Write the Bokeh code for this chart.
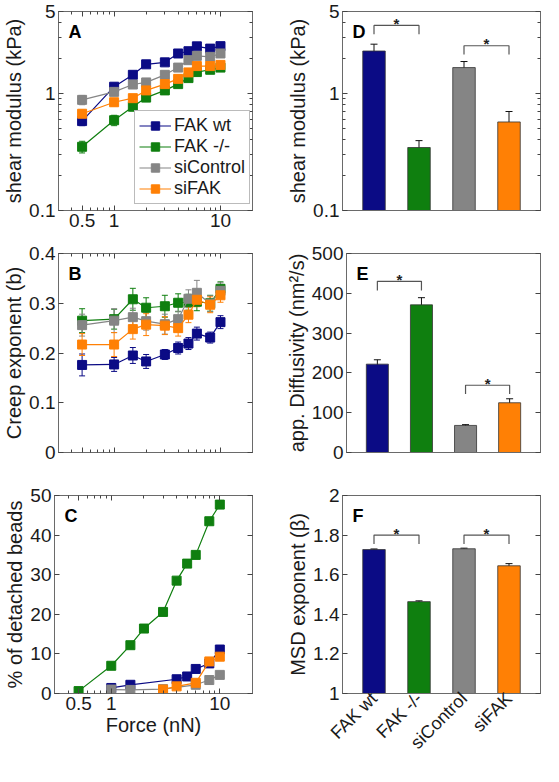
import math
from bokeh.plotting import figure
from bokeh.models import (ColumnDataSource, Whisker, TeeHead, FixedTicker, LogAxis, LinearAxis,
                          Label, Range1d, CustomJSTickFormatter)
from bokeh.layouts import column, row
from bokeh.embed import file_html
from bokeh.resources import INLINE

FONT = "Liberation Sans"
AX = "#6a6a6a"
TXT = "#1a1a1a"

# ---------------- data ----------------
groups = ["FAK wt", "FAK -/-", "siControl", "siFAK"]
colors = ["#0b0b85", "#0f7f0f", "#858585", "#ff8005"]

force = [0.5, 1, 1.5, 2, 3, 4, 5, 6, 8, 10]

# A: shear modulus (kPa) vs force
G_fak_wt = [0.58, 1.14, 1.44, 1.77, 1.84, 2.19, 2.29, 2.52, 2.41, 2.53]
G_fak_ko = [0.35, 0.59, 0.77, 0.92, 1.06, 1.20, 1.35, 1.52, 1.59, 1.66]
G_sicontrol = [0.88, 1.03, 1.19, 1.24, 1.44, 1.66, 1.92, 2.09, 2.05, 2.19]
G_sifak = [0.67, 0.84, 0.91, 1.06, 1.20, 1.33, 1.51, 1.71, 1.71, 1.75]
G_fak_wt_err = [0.05, 0.08, 0.09, 0.10, 0.10, 0.12, 0.12, 0.14, 0.13, 0.14]
G_fak_ko_err = [0.04, 0.06, 0.06, 0.06, 0.07, 0.07, 0.08, 0.09, 0.09, 0.10]
G_sicontrol_err = [0.08, 0.07, 0.08, 0.08, 0.09, 0.10, 0.11, 0.12, 0.12, 0.13]
G_sifak_err = [0.05, 0.06, 0.06, 0.07, 0.07, 0.08, 0.09, 0.10, 0.10, 0.10]

# B: creep exponent
b_fak_wt = [0.176, 0.177, 0.195, 0.183, 0.197, 0.210, 0.219, 0.239, 0.231, 0.262]
b_fak_ko = [0.265, 0.268, 0.308, 0.291, 0.294, 0.301, 0.302, 0.303, 0.300, 0.329]
b_sicontrol = [0.256, 0.265, 0.272, 0.264, 0.258, 0.268, 0.309, 0.321, 0.299, 0.325]
b_sifak = [0.217, 0.217, 0.248, 0.257, 0.255, 0.250, 0.277, 0.307, 0.297, 0.316]
b_fak_wt_err = [0.022, 0.014, 0.016, 0.014, 0.010, 0.012, 0.012, 0.013, 0.011, 0.013]
b_fak_ko_err = [0.024, 0.020, 0.022, 0.020, 0.022, 0.018, 0.016, 0.018, 0.016, 0.014]
b_sicontrol_err = [0.022, 0.024, 0.018, 0.018, 0.020, 0.016, 0.018, 0.025, 0.016, 0.016]
b_sifak_err = [0.022, 0.024, 0.020, 0.022, 0.018, 0.016, 0.016, 0.014, 0.016, 0.014]

# C: % of detached beads
c_force_fak_wt = [1, 1.5, 4, 5, 6, 8, 10]
c_fak_wt = [1.4, 2.2, 3.6, 4.3, 6.2, 7.6, 11.1]
c_force_fak_ko = [0.5, 1, 1.5, 2, 3, 4, 5, 6, 8, 10]
c_fak_ko = [0.6, 7.0, 12.2, 16.4, 20.6, 28.5, 32.8, 35.0, 43.5, 47.7]
c_force_sicontrol = [1, 1.5, 3, 6, 8, 10]
c_sicontrol = [1.0, 0.9, 1.1, 2.2, 3.4, 4.7]
c_force_sifak = [3, 4, 6, 8, 10]
c_sifak = [1.0, 1.8, 2.7, 8.1, 9.3]

# D, E, F: bar charts
D_modulus = [2.30, 0.345, 1.66, 0.57]
D_err = [0.33, 0.05, 0.21, 0.13]
E_diffusivity = [222, 371, 68, 125]
E_err = [11, 18, 2, 10]
F_beta = [1.727, 1.464, 1.731, 1.645]
F_err = [0.003, 0.004, 0.003, 0.011]

sig_pairs = [(1, 2), (3, 4)]
D_sig_top = [3.8, 2.55]
D_sig_end = [3.2, 2.15]
E_sig_top = [430, 169]
E_sig_end = [407, 147]
F_sig_top = [1.80, 1.80]
F_sig_end = [1.755, 1.755]

# ticks
log_x_ticks = [0.5, 1, 10]
log_x_minor = [0.3, 0.4, 0.6, 0.7, 0.8, 0.9, 2, 3, 4, 5, 6, 7, 8, 9, 20]
log_y_ticks = [0.1, 1, 5]
log_y_minor = [0.2, 0.3, 0.4, 0.5, 0.6, 0.7, 0.8, 0.9, 2, 3, 4]
B_ticks = [0, 0.1, 0.2, 0.3, 0.4]
C_ticks = [0, 10, 20, 30, 40, 50]
E_ticks = [0, 100, 200, 300, 400, 500]
F_ticks = [1, 1.2, 1.4, 1.6, 1.8, 2]

# ---------------- layout geometry ----------------
FW = 198          # frame width
FH = 199          # frame height
L_LEFT, L_RIGHT = 54, 30
R_LEFT, R_RIGHT = 60, 3
TOPS = [11, 17, 17]
BOTS = [26, 26, 68]


def num_fmt():
    return CustomJSTickFormatter(code="return Number(tick.toPrecision(6)).toString();")


def blank_fmt():
    return CustomJSTickFormatter(code="return '';")


def style(ax, size="19px"):
    ax.axis_line_color = AX
    ax.major_tick_line_color = "#444444"
    ax.minor_tick_line_color = "#444444"
    ax.major_tick_in = 5
    ax.major_tick_out = 0
    ax.minor_tick_in = 3
    ax.minor_tick_out = 0
    ax.major_label_text_font = FONT
    ax.major_label_text_font_size = size
    ax.major_label_text_color = TXT
    ax.major_label_standoff = 3
    ax.axis_label_text_font = FONT
    ax.axis_label_text_font_size = "20px"
    ax.axis_label_text_font_style = "normal"
    ax.axis_label_text_color = TXT
    ax.axis_label_standoff = 1


def make(col, rowi, xr, yr, xtype="linear", ytype="linear"):
    if col == 0:
        bl, br = L_LEFT, L_RIGHT
    else:
        bl, br = R_LEFT, R_RIGHT
    bt, bb = TOPS[rowi], BOTS[rowi]
    p = figure(width=bl + FW + br, height=bt + FH + bb, x_range=xr, y_range=yr,
               x_axis_type=xtype, y_axis_type=ytype, output_backend="svg",
               toolbar_location=None, min_border_left=bl, min_border_right=br,
               min_border_top=bt, min_border_bottom=bb)
    p.xgrid.visible = False
    p.ygrid.visible = False
    p.outline_line_color = AX
    style(p.xaxis[0])
    style(p.yaxis[0])
    return p


def add_box(p, xtype, ytype, xticker, yticker, xticks_on=True):
    top = LogAxis() if xtype == "log" else LinearAxis()
    right = LogAxis() if ytype == "log" else LinearAxis()
    top.ticker = xticker
    right.ticker = yticker
    for a in (top, right):
        style(a, "0px")
        a.formatter = blank_fmt()
        a.major_label_standoff = 0
    if not xticks_on:
        top.major_tick_in = 0
        top.minor_tick_in = 0
    p.add_layout(top, "above")
    p.add_layout(right, "right")


def panel_letter(p, letter):
    p.add_layout(Label(x=p.x_range.start, y=p.y_range.end, x_offset=10, y_offset=-10,
                       text=letter, text_font=FONT, text_font_style="bold",
                       text_font_size="18px", text_baseline="top", text_color="#000000"))


def series(p, xs, ys, errs, color, label=None):
    src = ColumnDataSource(dict(x=xs, y=ys,
                                upper=[v + e for v, e in zip(ys, errs)] if errs else ys,
                                lower=[v - e for v, e in zip(ys, errs)] if errs else ys))
    if errs:
        p.add_layout(Whisker(source=src, base="x", upper="upper", lower="lower",
                             line_color=color, line_width=1,
                             upper_head=TeeHead(size=6, line_color=color, line_width=1),
                             lower_head=TeeHead(size=6, line_color=color, line_width=1)))
    kw = dict(legend_label=label) if label else {}
    p.line("x", "y", source=src, line_color=color, line_width=1.2, **kw)
    p.scatter("x", "y", source=src, marker="square", size=9, fill_color=color,
              line_color=color, **kw)


# ---------------- A ----------------
pA = make(0, 0, Range1d(0.3, 20), Range1d(0.1, 5), "log", "log")
pA.xaxis[0].ticker = FixedTicker(ticks=log_x_ticks, minor_ticks=log_x_minor)
pA.yaxis[0].ticker = FixedTicker(ticks=log_y_ticks, minor_ticks=log_y_minor)
pA.xaxis[0].formatter = num_fmt()
pA.yaxis[0].formatter = num_fmt()
pA.yaxis[0].axis_label = "shear modulus (kPa)"
A_vals = [G_fak_wt, G_fak_ko, G_sicontrol, G_sifak]
A_errs = [G_fak_wt_err, G_fak_ko_err, G_sicontrol_err, G_sifak_err]
for vals, errs, c, g in zip(A_vals, A_errs, colors, groups):
    series(pA, force, vals, errs, c, g)
add_box(pA, "log", "log", FixedTicker(ticks=log_x_ticks, minor_ticks=log_x_minor),
        FixedTicker(ticks=log_y_ticks, minor_ticks=log_y_minor))
lg = pA.legend[0]
lg.location = (76, 6)
lg.margin = 0
lg.padding = 4
lg.spacing = 0
lg.glyph_width = 32
lg.glyph_height = 21
lg.label_height = 21
lg.label_standoff = 3
lg.label_text_font = FONT
lg.label_text_font_size = "18px"
lg.label_text_color = TXT
lg.border_line_color = "#777777"
lg.border_line_width = 1.5
lg.background_fill_alpha = 1
panel_letter(pA, "A")

# ---------------- B ----------------
pB = make(0, 1, Range1d(0.3, 20), Range1d(0, 0.4), "log", "linear")
pB.xaxis[0].ticker = FixedTicker(ticks=log_x_ticks, minor_ticks=log_x_minor)
pB.xaxis[0].formatter = blank_fmt()
pB.xaxis[0].major_label_text_font_size = "0px"
pB.yaxis[0].ticker = FixedTicker(ticks=B_ticks)
pB.yaxis[0].formatter = num_fmt()
pB.yaxis[0].axis_label = "Creep exponent (b)"
B_vals = [b_fak_wt, b_fak_ko, b_sicontrol, b_sifak]
B_errs = [b_fak_wt_err, b_fak_ko_err, b_sicontrol_err, b_sifak_err]
for vals, errs, c in zip(B_vals, B_errs, colors):
    series(pB, force, vals, errs, c)
add_box(pB, "log", "linear", FixedTicker(ticks=log_x_ticks, minor_ticks=log_x_minor),
        FixedTicker(ticks=B_ticks))
panel_letter(pB, "B")

# ---------------- C ----------------
pC = make(0, 2, Range1d(0.3, 20), Range1d(0, 50), "log", "linear")
pC.xaxis[0].ticker = FixedTicker(ticks=log_x_ticks, minor_ticks=log_x_minor)
pC.xaxis[0].formatter = num_fmt()
pC.xaxis[0].axis_label = "Force (nN)"
pC.yaxis[0].ticker = FixedTicker(ticks=C_ticks)
pC.yaxis[0].formatter = num_fmt()
pC.yaxis[0].axis_label = "% of detached beads"
C_x = [c_force_fak_wt, c_force_fak_ko, c_force_sicontrol, c_force_sifak]
C_vals = [c_fak_wt, c_fak_ko, c_sicontrol, c_sifak]
for xs, vals, c in zip(C_x, C_vals, colors):
    series(pC, xs, vals, None, c)
add_box(pC, "log", "linear", FixedTicker(ticks=log_x_ticks, minor_ticks=log_x_minor),
        FixedTicker(ticks=C_ticks))
panel_letter(pC, "C")

# ---------------- bar panels ----------------
xpos = list(range(1, len(groups) + 1))


def bar_panel(rowi, yr, ytype, vals, errs, yticks, yminor, ylabel, sig_top, sig_end,
              letter, show_x=False):
    p = make(1, rowi, Range1d(0.3, 4.7), yr, "linear", ytype)
    p.xaxis[0].ticker = FixedTicker(ticks=xpos)
    p.xaxis[0].major_tick_in = 0
    if show_x:
        p.xaxis[0].formatter = CustomJSTickFormatter(args=dict(labels=groups),
                                                     code="return labels[Math.round(tick) - 1] || '';")
        p.xaxis[0].major_label_orientation = math.pi / 4
        p.xaxis[0].major_label_text_font_size = "18px"
        p.xaxis[0].major_label_standoff = 2
    else:
        p.xaxis[0].formatter = blank_fmt()
        p.xaxis[0].major_label_text_font_size = "0px"
    p.yaxis[0].ticker = FixedTicker(ticks=yticks, minor_ticks=yminor)
    p.yaxis[0].formatter = num_fmt()
    p.yaxis[0].axis_label = ylabel
    src = ColumnDataSource(dict(x=xpos, top=vals, color=colors,
                                upper=[v + e for v, e in zip(vals, errs)],
                                lower=[v - e for v, e in zip(vals, errs)]))
    p.vbar(x="x", top="top", bottom=yr.start, width=0.5, source=src,
           fill_color="color", line_color="#333333", line_width=0.8)
    p.add_layout(Whisker(source=src, base="x", upper="upper", lower="lower",
                         line_color="#111111", line_width=1,
                         upper_head=TeeHead(size=7, line_color="#111111", line_width=1),
                         lower_head=TeeHead(size=7, line_color="#111111", line_width=1)))
    for (a, b), t, e in zip(sig_pairs, sig_top, sig_end):
        p.line([a, a, b, b], [e, t, t, e], line_color="#555555", line_width=1.2)
        p.add_layout(Label(x=(a + b) / 2, y=t, y_offset=2, text="*", text_align="center",
                           text_baseline="middle", text_font=FONT, text_font_size="15px",
                           text_font_style="bold", text_color="#222222"))
    add_box(p, "linear", ytype, FixedTicker(ticks=xpos),
            FixedTicker(ticks=yticks, minor_ticks=yminor), xticks_on=False)
    panel_letter(p, letter)
    return p


pD = bar_panel(0, Range1d(0.1, 5), "log", D_modulus, D_err, log_y_ticks, log_y_minor,
               "shear modulus (kPa)", D_sig_top, D_sig_end, "D")
pE = bar_panel(1, Range1d(0, 500), "linear", E_diffusivity, E_err, E_ticks, [],
               "app. Diffusivity (nm\u00b2/s)", E_sig_top, E_sig_end, "E")
pF = bar_panel(2, Range1d(1, 2), "linear", F_beta, F_err, F_ticks, [],
               "MSD exponent (\u03b2)", F_sig_top, F_sig_end, "F", show_x=True)

layout = column(row(pA, pD), row(pB, pE), row(pC, pF))
open("out.html", "w").write(file_html(layout, INLINE))
